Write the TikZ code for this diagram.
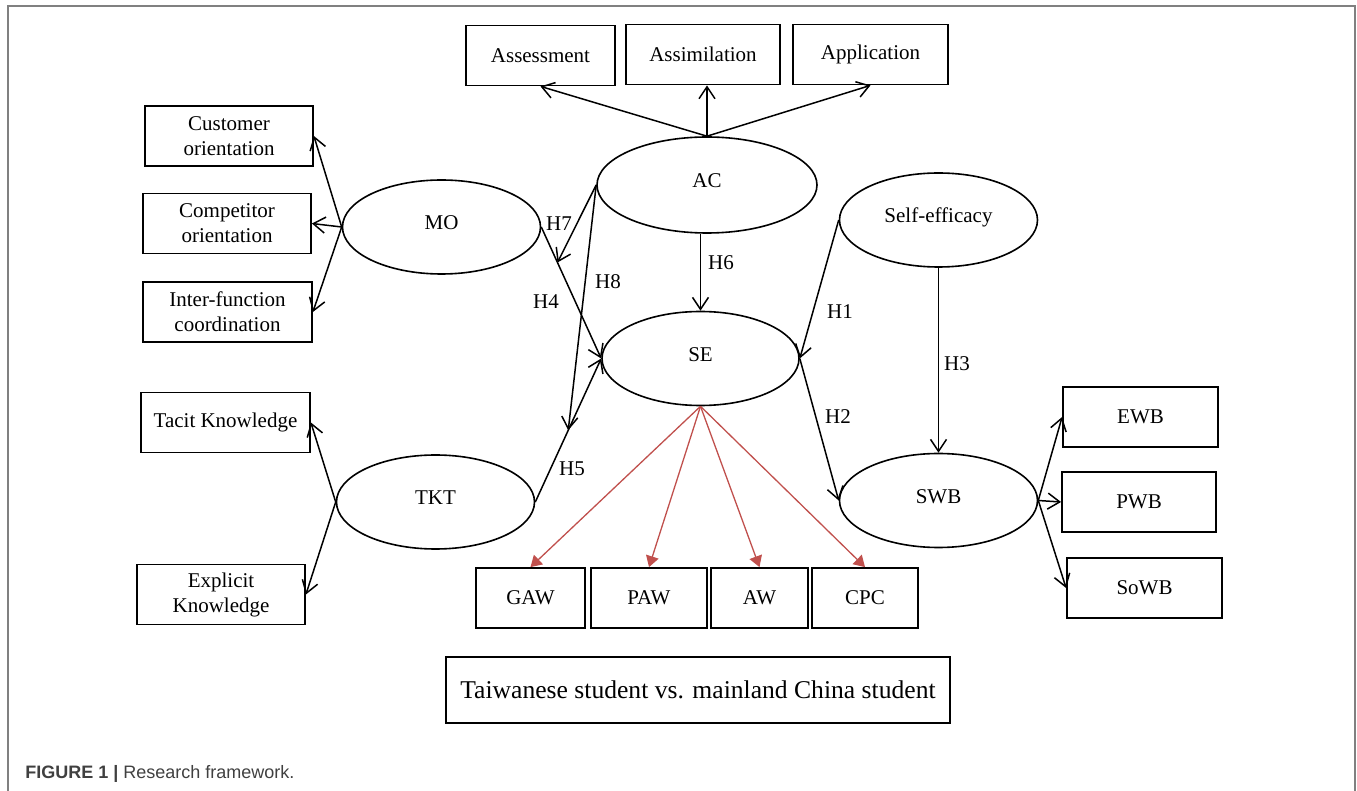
\documentclass[tikz,border=0pt]{standalone}
\usepackage{fontspec}
\setmainfont{Liberation Serif}
\newfontfamily\capfont{Liberation Sans}
\usetikzlibrary{shapes.geometric,arrows.meta,calc}
\definecolor{framegray}{HTML}{808080}
\definecolor{arrowred}{HTML}{C0504D}

\begin{document}
\begin{tikzpicture}[x=0.5pt, y=-0.5pt,
    font=\fontsize{10.5}{12.5}\selectfont,
    box/.style={draw, line width=0.9pt, inner sep=0pt, align=center, minimum height=30pt},
    latent/.style={draw, ellipse, line width=0.8pt, inner sep=0pt, text height=7pt, text depth=4pt,
        minimum width=99pt, minimum height=47pt},
    link/.style={line width=0.75pt, -{Straight Barb[length=6pt,width=8pt]}},
    redlink/.style={arrowred, line width=0.65pt, -{Triangle[length=5.5pt,width=6.5pt]}},
    hyp/.style={inner sep=0pt}]
  \useasboundingbox (0,0) rectangle (1357,791);
  \draw[framegray, line width=0.8pt] (8,791) -- (8,6) -- (1355,6) -- (1355,791);

  % indicators
  \node[box, minimum width=74.5pt] (assess) at (540.5,55.5) {Assessment};
  \node[box, minimum width=77pt] (assim) at (703,54.5) {Assimilation};
  \node[box, minimum width=77.5pt] (appl) at (870.5,54.5) {Application};
  \node[box, minimum width=84pt] (custor) at (229,136) {Customer\\orientation};
  \node[box, minimum width=84pt] (compor) at (227,223.5) {Competitor\\orientation};
  \node[box, minimum width=84.5pt] (interf) at (227.5,312) {Inter-function\\coordination};
  \node[box, minimum width=84.5pt] (tacit) at (225.5,422.5) {Tacit Knowledge};
  \node[box, minimum width=84pt] (explic) at (221,594.5) {Explicit\\Knowledge};
  \node[box, minimum width=54.5pt] (gaw) at (530.5,598) {GAW};
  \node[box, minimum width=58pt] (paw) at (649,598) {PAW};
  \node[box, minimum width=48.5pt] (aw) at (759.5,598) {AW};
  \node[box, minimum width=53pt] (cpc) at (865,598) {CPC};
  \node[box, minimum width=77.5pt] (ewb) at (1140.5,417) {EWB};
  \node[box, minimum width=77pt] (pwb) at (1139,502) {PWB};
  \node[box, minimum width=77.5pt] (sowb) at (1144.5,588) {SoWB};
  \node[box, minimum width=252pt, minimum height=33pt,
        font=\fontsize{12.8}{15}\selectfont] (group) at (698,690)
        {Taiwanese student vs. mainland China student};

  % constructs
  \node[latent] (mo) at (441.5,227) {MO};
  \node[latent, minimum width=110pt, minimum height=48pt] (ac) at (707,185) {AC};
  \node[latent] (selfeff) at (938.5,220) {Self-efficacy};
  \node[latent, minimum width=98.5pt] (se) at (700.5,358.5) {SE};
  \node[latent] (tkt) at (435.5,502) {TKT};
  \node[latent] (swb) at (938.5,500.5) {SWB};

  \draw[link] (ac.north) -- (assess.south);
  \draw[link] (ac.north) -- (ac.north |- assim.south);
  \draw[link] (ac.north) -- (appl.south);
  \foreach \b in {custor,compor,interf} \draw[link] (mo.west) -- (\b.east);
  \foreach \b in {tacit,explic} \draw[link] (tkt.west) -- (\b.east);
  \foreach \b in {ewb,pwb,sowb} \draw[link] (swb.east) -- (\b.west);
  \foreach \b in {gaw,paw,aw,cpc} \draw[redlink] (se.south) -- (\b.north);

  % hypotheses
  \coordinate (h7end) at ($(mo.east)!0.27!(se.west)$);
  \coordinate (h8end) at ($(tkt.east)!0.5!(se.west)$);
  \draw[link] (selfeff.west) -- (se.east);
  \draw[link] (se.east) -- (swb.west);
  \draw[link] (selfeff.south) -- (swb.north);
  \draw[link] (mo.east) -- (se.west);
  \draw[link] (tkt.east) -- (se.west);
  \draw[link] (ac.south -| se.north) -- (se.north);
  \draw[link] (ac.west) -- (h7end);
  \draw[link] (ac.west) -- (h8end);
  \node[hyp] (h1) at (840,312) {H1};
  \node[hyp] (h2) at (838,417) {H2};
  \node[hyp] (h3) at (957,364) {H3};
  \node[hyp] (h4) at (546,302) {H4};
  \node[hyp] (h5) at (572,469) {H5};
  \node[hyp] (h6) at (721,263) {H6};
  \node[hyp] (h7) at (559,224) {H7};
  \node[hyp] (h8) at (608,282) {H8};

  \node[anchor=base west, inner sep=0pt, text=black!75,
        font=\capfont\fontsize{9}{11}\selectfont] (caption) at (25,778)
        {\textbf{FIGURE 1 |} Research framework.};
\end{tikzpicture}
\end{document}
